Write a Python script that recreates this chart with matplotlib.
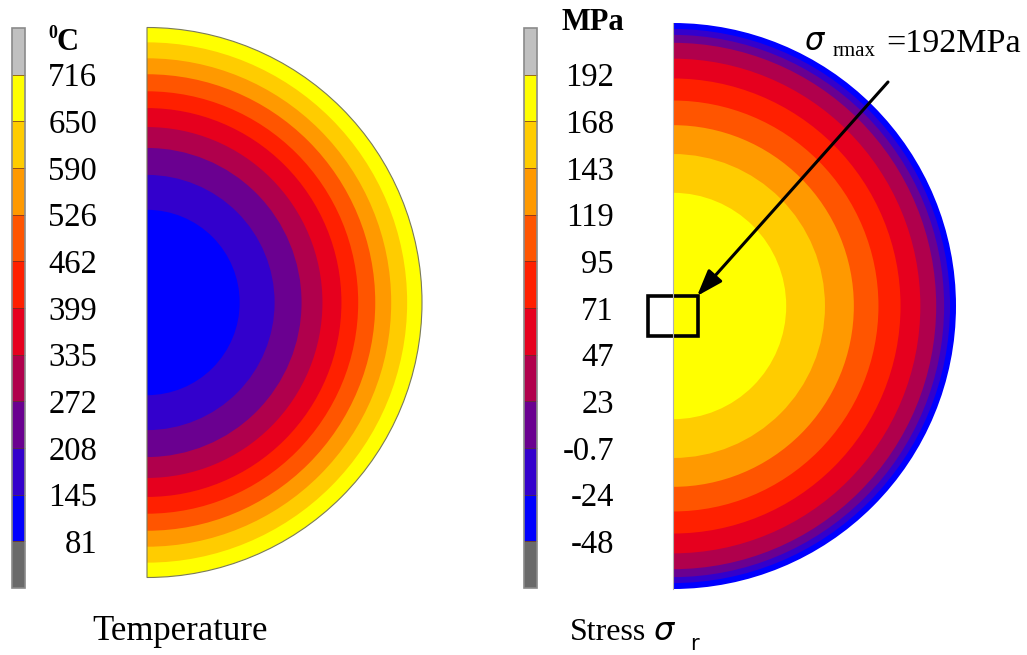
import numpy as np
import matplotlib
matplotlib.use("Agg")
import matplotlib.pyplot as plt
from matplotlib.patches import Wedge, Rectangle
from matplotlib.colors import ListedColormap, BoundaryNorm
from matplotlib.cm import ScalarMappable

plt.rcParams['font.family'] = ['Liberation Serif', 'DejaVu Serif']
plt.rcParams['axes.unicode_minus'] = False

# contour levels
temp_levels = [81, 145, 208, 272, 335, 399, 462, 526, 590, 650, 716]
temp_labels = ['81', '145', '208', '272', '335', '399', '462', '526', '590', '650', '716']
stress_levels = [-48, -24, -0.7, 23, 47, 71, 95, 119, 143, 168, 192]
stress_labels = ['-48', '-24', '-0.7', '23', '47', '71', '95', '119', '143', '168', '192']

# band colours, lowest level first
band_colors = ['#0000ff', '#3300cc', '#6a0090', '#b0004c', '#e6001e',
               '#ff2000', '#ff5500', '#ff9900', '#ffcc00', '#ffff00']
under_color = '#6a6a6a'
over_color = '#c0c0c0'

# outer radius (fraction of disk radius) of each band, centre outwards
temp_band_r = [0.337, 0.464, 0.562, 0.638, 0.707, 0.768, 0.830, 0.888, 0.946, 1.0]
temp_band_idx = [0, 1, 2, 3, 4, 5, 6, 7, 8, 9]
stress_band_r = [0.40, 0.537, 0.639, 0.726, 0.804, 0.874, 0.930, 0.958, 0.979, 1.0]
stress_band_idx = [9, 8, 7, 6, 5, 4, 3, 2, 1, 0]

W, H = 1027, 655
fig = plt.figure(figsize=(W / 100, H / 100), dpi=100)
ax = fig.add_axes([0, 0, 1, 1])
ax.set_xlim(0, W)
ax.set_ylim(H, 0)
ax.set_aspect('equal')
ax.axis('off')


def half_disk(center, radius, radii, idx):
    # outer bands first, inner ones painted on top
    for r, i in reversed(list(zip(radii, idx))):
        ax.add_patch(Wedge(center, r * radius, -90, 90, facecolor=band_colors[i],
                           edgecolor='none', antialiased=True))


half_disk((147, 302.5), 275, temp_band_r, temp_band_idx)
ax.add_patch(Wedge((147, 302.5), 275, -90, 90, facecolor='none', edgecolor='#7a7a5a', lw=0.8))
half_disk((673, 306), 283, stress_band_r, stress_band_idx)
ax.plot([673, 673], [306 - 283, 306 + 283], color='#b0b0b0', lw=0.8)


def add_bar(x0, levels, labels, label_right):
    cmap = ListedColormap(band_colors)
    cmap.set_under(under_color)
    cmap.set_over(over_color)
    norm = BoundaryNorm(levels, cmap.N)
    x_left = x0 / W
    cax = fig.add_axes([x_left, 1 - 588 / H, 13 / W, (588 - 28) / H])
    cb = fig.colorbar(ScalarMappable(norm=norm, cmap=cmap), cax=cax, extend='both',
                      extendrect=True, extendfrac='auto', drawedges=True, spacing='uniform')
    cb.outline.set_edgecolor('#8a8a8a')
    cb.outline.set_linewidth(1.2)
    cb.dividers.set_color('#6a3020')
    cb.dividers.set_linewidth(0.5)
    cb.set_ticks(levels, labels=labels)
    pad = (label_right - x0 - 13) * 0.72
    cax.tick_params(length=0, pad=pad, labelsize=23.5)
    for t in cax.get_yticklabels():
        t.set_ha('right')
    return cb


add_bar(12, temp_levels, temp_labels, 97)
add_bar(524, stress_levels, stress_labels, 614)

# units above the bars
ax.text(48, 34, '0', fontsize=13, fontweight='bold', ha='left', va='center')
ax.text(57, 42, 'C', fontsize=22, fontweight='bold', ha='left', va='center')
ax.text(561, 23, 'MPa', fontsize=22, fontweight='bold', ha='left', va='center')

# annotation of the maximum radial stress
ax.add_patch(Rectangle((648, 296), 50, 40, fill=False, edgecolor='k', lw=2.6))
ax.annotate('', xy=(697, 296), xytext=(888, 82),
            arrowprops=dict(arrowstyle='-|>,head_length=0.8,head_width=0.28',
                            mutation_scale=20, color='k', lw=2.2, shrinkA=0, shrinkB=0))
ax.text(804, 41, 'σ', fontsize=22, fontstyle='italic', family='DejaVu Sans', ha='left', va='center')
ax.text(833, 52, 'rmax', fontsize=15, ha='left', va='center')
ax.text(886, 44, '=192MPa', fontsize=24.5, ha='left', va='center')

# panel captions
ax.text(92, 632, 'Temperature', fontsize=25, ha='left', va='center')
ax.text(570, 632, 'Stress', fontsize=23, ha='left', va='center')
ax.text(653, 631, 'σ', fontsize=23, fontstyle='italic', family='DejaVu Sans', ha='left', va='center')
ax.text(690, 644, 'r', fontsize=15, family='DejaVu Sans', ha='left', va='center')

fig.savefig('out.png', dpi=100)
